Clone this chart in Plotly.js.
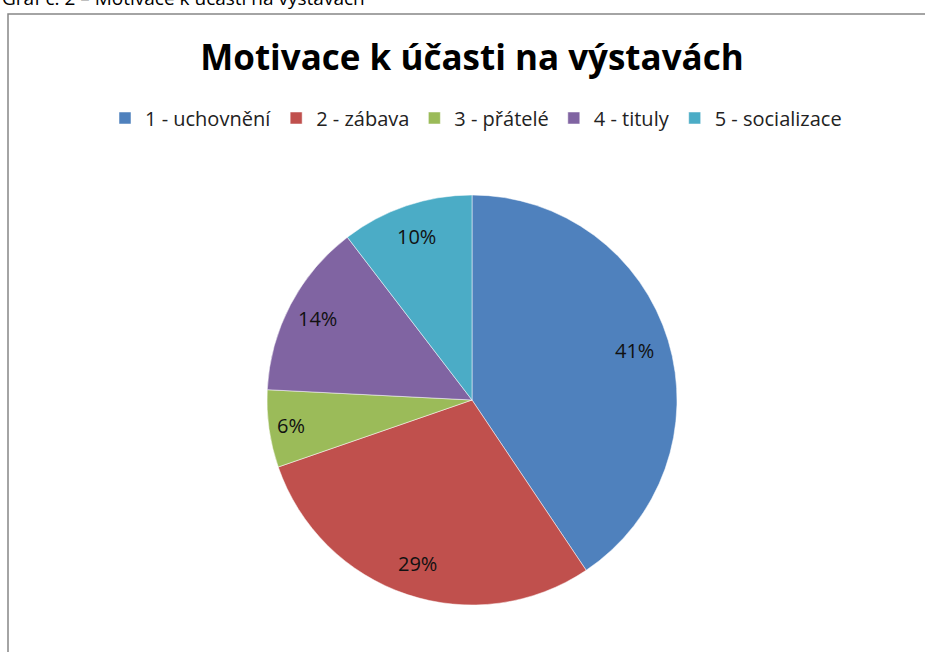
<!DOCTYPE html>
<html>
<head>
<meta charset="utf-8">
<script src="https://cdn.plot.ly/plotly-3.0.1.min.js"></script>
<style>html,body{margin:0;padding:0;background:#fff;}#chart{width:925px;height:652px;}</style>
</head>
<body>
<div id="chart"></div>
<script>
// Data
const categories = ["1 - uchovnění", "2 - zábava", "3 - přátelé", "4 - tituly", "5 - socializace"];
const values = [40.6, 29.1, 6.1, 13.8, 10.4];
const colors = ["#4F81BD", "#C0504D", "#9BBB59", "#8064A2", "#4BACC6"];
const titleText = "Motivace k účasti na výstavách";
const captionText = "Graf č. 2 – Motivace k účasti na výstavách";

// Geometry (layout)
const W = 925, H = 652;
const cx = 472, cy = 400, R = 205;
const dom = {
  x: [(cx - R) / W, (cx + R) / W],
  y: [(H - cy - R) / H, (H - cy + R) / H]
};
const FONT = "'Open Sans', Lato, sans-serif";

// label annotations computed from the values
const total = values.reduce((a, b) => a + b, 0);
const labelRadius = [0.83, 0.84, 0.89, 0.85, 0.84];
let cum = 0;
const annotations = values.map((v, i) => {
  const mid = (cum + v / 2) / total * 2 * Math.PI;
  cum += v;
  const r = R * labelRadius[i];
  const px = cx + r * Math.sin(mid);
  const py = cy - r * Math.cos(mid);
  return {
    x: px / W, y: 1 - py / H, xref: "paper", yref: "paper",
    text: Math.round(v / total * 100) + "%",
    showarrow: false,
    font: {family: FONT, size: 20, color: "#111"},
    xanchor: "center", yanchor: "middle"
  };
});
annotations.push({
  x: 0, y: 1 - 13 / H, xref: "paper", yref: "paper",
  text: captionText, showarrow: false,
  xanchor: "left", yanchor: "bottom",
  font: {family: FONT, size: 19, color: "#000"}
});

const trace = {
  type: "pie",
  labels: categories,
  values: values,
  sort: false,
  direction: "clockwise",
  rotation: 0,
  marker: {colors: colors, line: {color: "#ffffff", width: 0.5}},
  textinfo: "none",
  hoverinfo: "label+percent",
  domain: dom
};

const layout = {
  width: W, height: H,
  margin: {l: 0, r: 0, t: 0, b: 0},
  paper_bgcolor: "#ffffff",
  plot_bgcolor: "#ffffff",
  title: {
    text: "<b>" + titleText + "</b>",
    font: {family: FONT, size: 35, color: "#000"},
    x: 472 / W, xanchor: "center",
    y: 1 - 58 / H, yanchor: "middle",
    xref: "paper", yref: "paper"
  },
  showlegend: true,
  legend: {
    orientation: "h",
    x: 476 / W, xanchor: "center",
    y: 1 - 118 / H, yanchor: "middle",
    font: {family: FONT, size: 20, color: "#222"},
    traceorder: "normal",
    itemwidth: 30
  },
  shapes: [{
    type: "rect", xref: "paper", yref: "paper",
    x0: 8 / W, x1: 1.02, y0: -0.02, y1: 1 - 14 / H,
    line: {color: "#868686", width: 1.5},
    fillcolor: "rgba(0,0,0,0)"
  }],
  annotations: annotations
};

Plotly.newPlot("chart", [trace], layout, {displayModeBar: false, staticPlot: true});
</script>
</body>
</html>
